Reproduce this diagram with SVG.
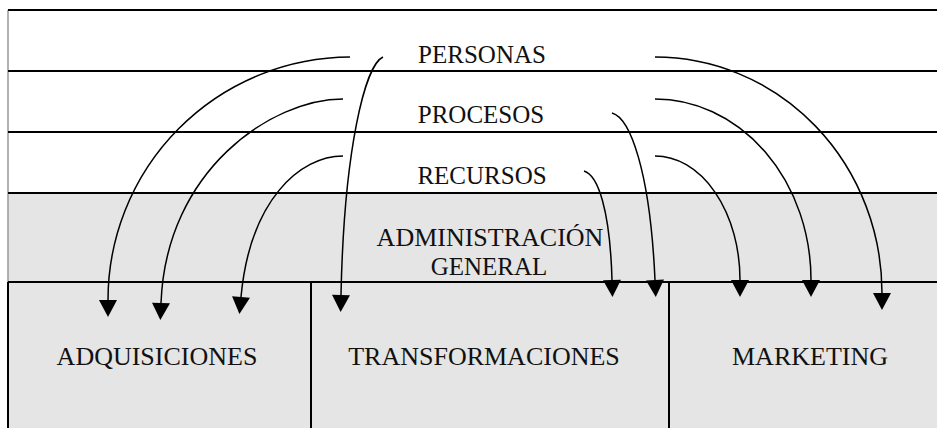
<svg xmlns="http://www.w3.org/2000/svg" width="937" height="428" viewBox="0 0 937 428">
<defs>
<style>
.band{fill:none;stroke:#000;stroke-width:2}
.lbl{font-family:"Liberation Serif","Times New Roman",serif;font-size:25px;fill:#111;text-anchor:middle}
.big{font-size:26px}
.cn{fill:none;stroke:#000;stroke-width:1.5}
</style>
<marker id="ah" markerUnits="userSpaceOnUse" markerWidth="18" markerHeight="18" refX="0" refY="9" orient="auto" viewBox="0 0 17 18">
<path d="M0,0 L17,9 L0,18 Z" fill="#000"/>
</marker>
</defs>
<rect x="0" y="0" width="937" height="428" fill="#fff"/>
<rect x="8" y="193" width="929" height="235" fill="#e5e5e5"/>
<g id="frame">
<line x1="8" y1="10" x2="8" y2="282" stroke="#999" stroke-width="1.5"/>
<line x1="8" y1="282" x2="8" y2="428" stroke="#000" stroke-width="2"/>
<line class="band" x1="8" y1="10" x2="937" y2="10"/>
<line class="band" x1="8" y1="71" x2="937" y2="71"/>
<line class="band" x1="8" y1="132" x2="937" y2="132"/>
<line class="band" x1="8" y1="193" x2="937" y2="193"/>
<line class="band" x1="8" y1="282" x2="937" y2="282"/>
<line class="band" x1="311" y1="282" x2="311" y2="428"/>
<line class="band" x1="669" y1="282" x2="669" y2="428"/>
</g>
<g id="personas"><text class="lbl" x="482" y="63">PERSONAS</text></g>
<g id="procesos"><text class="lbl" x="481" y="123">PROCESOS</text></g>
<g id="recursos"><text class="lbl" x="482" y="184">RECURSOS</text></g>
<g id="administracion">
<text class="lbl" x="490" y="246" style="font-size:26px">ADMINISTRACIÓN</text>
<text class="lbl" x="489" y="275" style="font-size:25px">GENERAL</text>
</g>
<g id="adquisiciones"><text class="lbl big" x="157" y="365">ADQUISICIONES</text></g>
<g id="transformaciones"><text class="lbl big" x="484" y="365">TRANSFORMACIONES</text></g>
<g id="marketing"><text class="lbl big" x="810" y="365">MARKETING</text></g>
<g id="connectors">
<path class="cn" marker-end="url(#ah)" d="M350,57 A243,243 0 0 0 108,300"/>
<path class="cn" marker-end="url(#ah)" d="M343,99 C272,99 166,170 161,303"/>
<path class="cn" marker-end="url(#ah)" d="M343,156 C300,156 250,200 241,297"/>
<path class="cn" marker-end="url(#ah)" d="M383,57 C365,65 344,150 341,295"/>
<path class="cn" marker-end="url(#ah)" d="M655,57 A227,236 0 0 1 882,293"/>
<path class="cn" marker-end="url(#ah)" d="M655,99 A156,181 0 0 1 811,280"/>
<path class="cn" marker-end="url(#ah)" d="M655,156 A85,124 0 0 1 740,280"/>
<path class="cn" marker-end="url(#ah)" d="M612,113 C630,118 650,170 655,280"/>
<path class="cn" marker-end="url(#ah)" d="M584,171 C598,175 610,210 612,280"/>
</g>
</svg>
